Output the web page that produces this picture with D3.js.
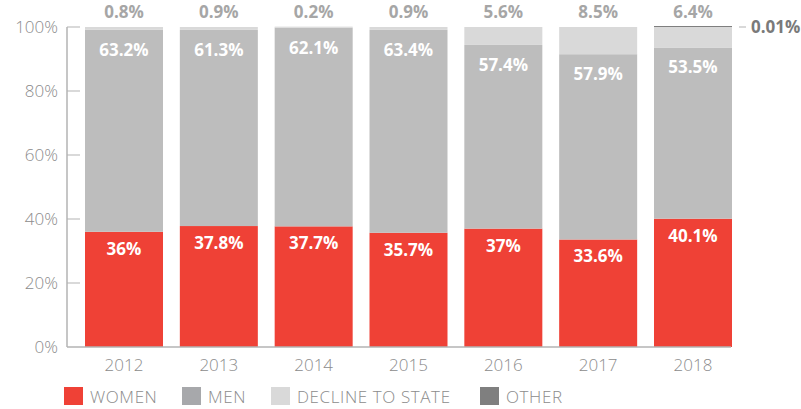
<!DOCTYPE html>
<html>
<head>
<meta charset="utf-8">
<script src="https://cdn.jsdelivr.net/npm/d3@7"></script>
<style>
  body { margin: 0; background: #fff; }
  svg { display: block; font-family: "Open Sans", Lato, sans-serif; }
</style>
</head>
<body>
<svg id="chart" width="801" height="409"></svg>
<script>
const years = ['2012', '2013', '2014', '2015', '2016', '2017', '2018'];
const women = [36, 37.8, 37.7, 35.7, 37, 33.6, 40.1];
const men = [63.2, 61.3, 62.1, 63.4, 57.4, 57.9, 53.5];
const decline = [0.8, 0.9, 0.2, 0.9, 5.6, 8.5, 6.4];
const other = [0, 0, 0, 0, 0, 0, 0.01];
const yTicks = [0, 20, 40, 60, 80, 100];

const seriesKeys = ['women', 'men', 'decline', 'other'];
const seriesNames = ['WOMEN', 'MEN', 'DECLINE TO STATE', 'OTHER'];
const colors = { women: '#ef4136', men: '#bdbdbd', decline: '#d9d9d9', other: '#7f7f7f' };
const legendColors = { women: '#ef4136', men: '#a7a8ab', decline: '#d9d9d9', other: '#7f7f7f' };

const table = years.map((yr, i) => ({
  year: yr, women: women[i], men: men[i], decline: decline[i], other: other[i]
}));

const svg = d3.select('#chart');
const axisX0 = 67, plotBottom = 347, plotTop = 27;

const x = d3.scaleBand().domain(years).range([85, 732]).paddingInner(0.1775).paddingOuter(0);
const y = d3.scaleLinear().domain([0, 100]).range([plotBottom, plotTop]);

const stacked = d3.stack().keys(seriesKeys)(table);

// bars
svg.append('g').selectAll('g')
  .data(stacked)
  .join('g')
  .attr('fill', d => colors[d.key])
  .selectAll('rect')
  .data(d => d.filter(p => p[1] - p[0] > 0))
  .join('rect')
  .attr('x', d => x(d.data.year))
  .attr('width', x.bandwidth())
  .attr('y', d => Math.min(y(d[1]), y(d[0]) - 1))
  .attr('height', d => Math.max(1, y(d[0]) - y(d[1])));

// axes
const axisColor = '#b3b3b3';
svg.append('line')
  .attr('x1', axisX0).attr('x2', axisX0)
  .attr('y1', y(100)).attr('y2', y(0))
  .attr('stroke', axisColor).attr('stroke-width', 1.5);
svg.append('line')
  .attr('x1', axisX0).attr('x2', 731)
  .attr('y1', y(0)).attr('y2', y(0))
  .attr('stroke', axisColor).attr('stroke-width', 1.5);

const yt = svg.append('g');
yt.selectAll('line')
  .data(yTicks.filter(t => t > 0))
  .join('line')
  .attr('x1', axisX0).attr('x2', 80)
  .attr('y1', d => y(d)).attr('y2', d => y(d))
  .attr('stroke', axisColor).attr('stroke-width', 1);
yt.selectAll('text')
  .data(yTicks)
  .join('text')
  .attr('x', 58)
  .attr('y', d => y(d))
  .attr('dy', '0.35em')
  .attr('text-anchor', 'end')
  .attr('fill', '#8c8c8c')
  .attr('font-size', 17)
  .attr('font-weight', 300)
  .text(d => d + '%');

svg.append('g').selectAll('text')
  .data(years)
  .join('text')
  .attr('x', d => x(d) + x.bandwidth() / 2)
  .attr('y', 365)
  .attr('dy', '0.35em')
  .attr('text-anchor', 'middle')
  .attr('fill', '#8c8c8c')
  .attr('font-size', 17)
  .attr('font-weight', 300)
  .text(d => d);

// value labels
const fmt = v => v + '%';
const labels = svg.append('g').attr('font-weight', 700).attr('text-anchor', 'middle');
labels.selectAll('text.women')
  .data(table)
  .join('text')
  .attr('class', 'women')
  .attr('x', d => x(d.year) + x.bandwidth() / 2)
  .attr('y', d => y(d.women) + 17)
  .attr('dy', '0.35em')
  .attr('fill', '#fff')
  .attr('font-size', 17)
  .text(d => fmt(d.women));
labels.selectAll('text.men')
  .data(table)
  .join('text')
  .attr('class', 'men')
  .attr('x', d => x(d.year) + x.bandwidth() / 2)
  .attr('y', d => y(d.women + d.men) + 20)
  .attr('dy', '0.35em')
  .attr('fill', '#fff')
  .attr('font-size', 17)
  .text(d => fmt(d.men));
labels.selectAll('text.decline')
  .data(table)
  .join('text')
  .attr('class', 'decline')
  .attr('x', d => x(d.year) + x.bandwidth() / 2)
  .attr('y', 12)
  .attr('dy', '0.35em')
  .attr('fill', '#a6a6a6')
  .attr('font-size', 17)
  .text(d => fmt(d.decline));

// "other" annotation
const last = table[table.length - 1];
svg.append('line')
  .attr('x1', 739).attr('x2', 746)
  .attr('y1', y(100)).attr('y2', y(100))
  .attr('stroke', axisColor).attr('stroke-width', 1);
svg.append('text')
  .attr('x', 751)
  .attr('y', y(100))
  .attr('dy', '0.35em')
  .attr('fill', '#7a7a7a')
  .attr('font-size', 17)
  .attr('font-weight', 700)
  .text(fmt(last.other));

// legend
const legendX = [64, 182, 271, 480];
const lg = svg.append('g').selectAll('g')
  .data(seriesKeys)
  .join('g')
  .attr('transform', (d, i) => `translate(${legendX[i]},387)`);
lg.append('rect')
  .attr('width', 19).attr('height', 18)
  .attr('fill', d => legendColors[d]);
lg.append('text')
  .attr('x', 26)
  .attr('y', 16)
  .attr('fill', '#8c8c8c')
  .attr('font-size', 17)
  .attr('font-weight', 300)
  .attr('letter-spacing', 0.6)
  .text((d, i) => seriesNames[i]);
</script>
</body>
</html>
